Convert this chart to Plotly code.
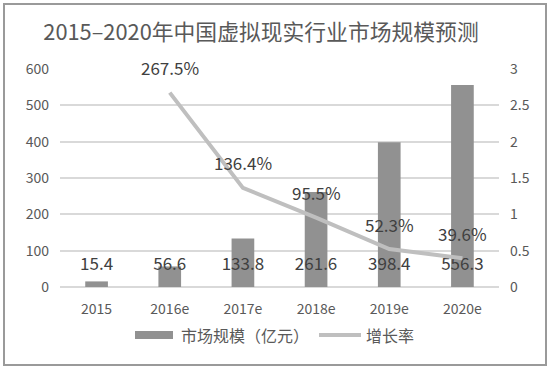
import plotly.graph_objects as go

years = ["2015", "2016e", "2017e", "2018e", "2019e", "2020e"]
market = [15.4, 56.6, 133.8, 261.6, 398.4, 556.3]
growth_years = ["2016e", "2017e", "2018e", "2019e", "2020e"]
growth = [2.675, 1.364, 0.955, 0.523, 0.396]
growth_labels = ["267.5%", "136.4%", "95.5%", "52.3%", "39.6%"]
bar_name = "市场规模（亿元）"
line_name = "增长率"

FONT = "Microsoft YaHei, Noto Sans CJK SC, sans-serif"
BAR_LABEL_LEVEL = 58
BAR_COLOR = "#919191"
LINE_COLOR = "#bfbfbf"

W, H = 554, 370
L, R, T, B = 60, 55, 69, 83
pw, ph = W - L - R, H - T - B


def px_x(px):
    return (px - L) / pw


def px_y(py):
    return (H - B - py) / ph


fig = go.Figure()
fig.add_trace(go.Bar(
    x=years, y=market, name=bar_name,
    marker=dict(color=BAR_COLOR, line=dict(width=0)),
    width=0.31, showlegend=False,
))
fig.add_trace(go.Scatter(
    x=growth_years, y=growth, name=line_name, yaxis="y2",
    mode="lines", line=dict(color=LINE_COLOR, width=4), showlegend=False,
))
fig.add_trace(go.Scatter(
    x=years, y=[BAR_LABEL_LEVEL] * len(years), text=[f"{v:.1f}" for v in market],
    mode="text", textposition="middle center",
    textfont=dict(family=FONT, size=17, color="#404040"),
    showlegend=False, hoverinfo="skip",
))
for xv, yv, t in zip(growth_years, growth, growth_labels):
    fig.add_annotation(x=xv, y=yv, yref="y2", text=t, showarrow=False,
                       yshift=25, font=dict(family=FONT, size=17, color="#404040"))

# outer border
fig.add_shape(type="rect", xref="paper", yref="paper",
              x0=px_x(4), x1=px_x(546), y0=px_y(365), y1=px_y(4),
              line=dict(color="#9a9a9a", width=2), fillcolor="rgba(0,0,0,0)", layer="above")

# legend (drawn manually for wide swatches)
fig.add_shape(type="rect", xref="paper", yref="paper",
              x0=px_x(135), x1=px_x(173), y0=px_y(339), y1=px_y(331),
              line=dict(width=0), fillcolor=BAR_COLOR)
fig.add_annotation(xref="paper", yref="paper", x=px_x(179), y=px_y(335),
                   xanchor="left", yanchor="middle", text=bar_name, showarrow=False,
                   font=dict(family=FONT, size=16, color="#595959"))
fig.add_shape(type="line", xref="paper", yref="paper",
              x0=px_x(319), x1=px_x(361), y0=px_y(335), y1=px_y(335),
              line=dict(color=LINE_COLOR, width=4))
fig.add_annotation(xref="paper", yref="paper", x=px_x(364), y=px_y(335),
                   xanchor="left", yanchor="middle", text=line_name, showarrow=False,
                   font=dict(family=FONT, size=16, color="#595959"))

fig.update_layout(
    width=W, height=H,
    margin=dict(l=L, r=R, t=T, b=B),
    paper_bgcolor="white", plot_bgcolor="white",
    font=dict(family=FONT, color="#595959", size=14),
    title=dict(text="2015–2020年中国虚拟现实行业市场规模预测",
               x=261 / W, xanchor="center", y=1 - 32 / H, yanchor="middle",
               font=dict(family=FONT, size=21.8, color="#595959")),
    showlegend=False,
    xaxis=dict(type="category", showgrid=False, showline=False, ticks="",
               ticklabelstandoff=12,
               tickfont=dict(family=FONT, size=14, color="#595959")),
    yaxis=dict(range=[0, 600], dtick=100, showgrid=True, gridcolor="#d9d9d9", gridwidth=1.5,
               zeroline=True, zerolinecolor="#d9d9d9", zerolinewidth=2,
               showline=False, ticks="", ticklabelstandoff=10,
               tickfont=dict(family=FONT, size=14, color="#595959")),
    yaxis2=dict(range=[0, 3], dtick=0.5, overlaying="y", side="right", showgrid=False,
                zeroline=False, showline=False, ticks="", ticklabelstandoff=10,
                tickfont=dict(family=FONT, size=14, color="#595959")),
    bargap=0.69,
)

fig.write_html("out.html", config={"displayModeBar": False},
               post_script="document.body.style.margin='0';")
